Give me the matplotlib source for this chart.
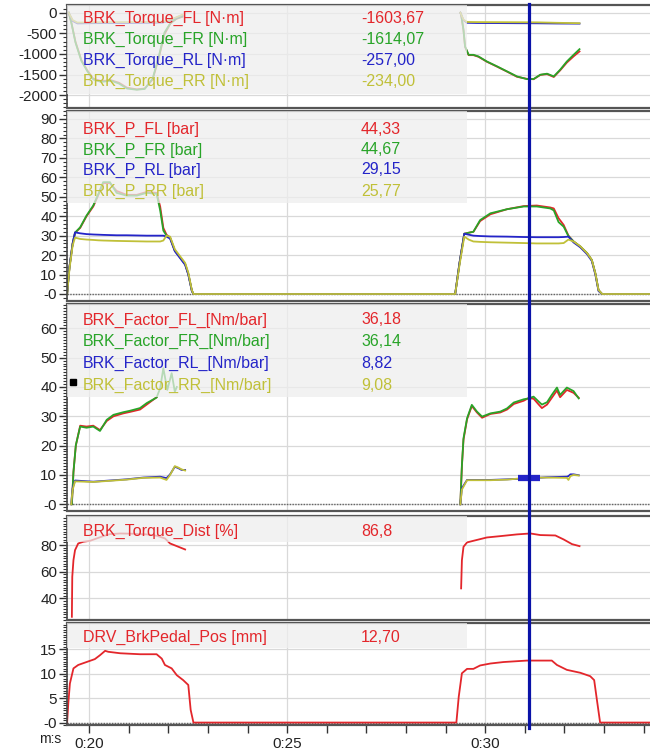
"""
Recria o painel de telemetria de freio (torque, pressão, fator, distribuição, pedal).
"""

import numpy as np
import matplotlib
matplotlib.use('Agg')
import matplotlib.pyplot as plt
from matplotlib.patches import Rectangle
from matplotlib.lines import Line2D
from matplotlib.ticker import FixedLocator, MultipleLocator
import matplotlib.transforms as mtransforms

plt.rcParams['font.family'] = ['Liberation Sans', 'DejaVu Sans']

nan = np.nan

# ---------------- Painel 1: torque de freio [N·m] ----------------
t_trq_front = [19.48, 19.55, 19.65, 19.80, 19.95, 20.10, 20.30, 20.55, 20.75, 20.95,
               21.20, 21.40, 21.60, 21.75, 21.90, 22.05, 22.20, 22.35, nan,
               29.37, 29.39, 29.45, 29.49, 29.58, 29.70, 29.83, 30.04, 30.30, 30.55,
               30.80, 31.05, 31.22, 31.39, 31.56, 31.73, 31.89, 32.06, 32.23, 32.38]
trq_fl = [0, -250, -700, -1150, -1400, -1600, -1660, -1640, -1700, -1820,
          -1860, -1840, -1620, -1120, -520, -260, -150, -100, nan,
          0, -40, -430, -830, -1030, -1030, -1070, -1190, -1310, -1430,
          -1555, -1605, -1615, -1510, -1490, -1560, -1400, -1210, -1060, -940]
trq_fr = [0, -260, -720, -1170, -1420, -1620, -1680, -1650, -1720, -1840,
          -1870, -1850, -1600, -1080, -480, -250, -140, -90, nan,
          0, -40, -418, -821, -1022, -1022, -1063, -1184, -1304, -1425,
          -1546, -1612, -1610, -1505, -1480, -1546, -1385, -1184, -1022, -885]
t_trq_rear = [19.48, 19.58, 19.70, 20.0, 20.5, 21.0, 21.5, 21.85, 22.0, 22.2, 22.35, nan,
              29.37, 29.45, 29.54, 29.80, 30.30, 30.80, 31.30, 31.80, 32.38]
trq_rl = [0, -200, -260, -255, -250, -250, -245, -240, -200, -120, -60, nan,
          0, -180, -245, -250, -252, -255, -257, -262, -265]
trq_rr = [0, -180, -240, -235, -230, -228, -225, -220, -190, -110, -50, nan,
          0, -170, -225, -228, -230, -232, -234, -245, -255]

# ---------------- Painel 2: pressão [bar] ----------------
t_p = [19.44, 19.50, 19.58, 19.64, 19.77, 19.93, 20.10, 20.23, 20.35, 20.52,
       20.69, 20.94, 21.20, 21.45, 21.70, 21.79, 21.87, 21.95, 22.04, 22.16,
       22.29, 22.42, 22.50, 22.59, 22.63,
       29.24, 29.35, 29.47, 29.58, 29.70, 29.87, 30.13, 30.55, 30.97, 31.30,
       31.64, 31.73, 31.85, 31.98, 32.10, 32.23, 32.40, 32.57, 32.69, 32.78,
       32.86, 32.95, 34.20]
p_fl = [0, 14, 26, 31.5, 34, 40, 45, 51, 57, 57,
        53, 51, 51, 52.5, 52, 45, 34, 30.5, 29, 22.3,
        18.9, 15.4, 10.3, 1.7, 0,
        0, 16, 31, 31.5, 32, 37.5, 41, 43.6, 45.2, 45.5,
        44.5, 44, 39, 35.5, 30, 27, 24.4, 21, 17.5, 10.6,
        2, 0, 0]
p_fr = [0, 14, 26, 31.5, 34.3, 40.3, 45.5, 51.5, 57.5, 57.5,
        52, 50.6, 50.6, 52, 51.5, 43, 32.6, 30, 29, 22.3,
        18.9, 15.4, 10.3, 1.7, 0,
        0, 16, 31, 31.5, 32, 38, 41.5, 43.6, 45, 45,
        44, 43, 37, 34.6, 29.8, 27, 24.4, 21, 17.5, 10.6,
        2, 0, 0]
p_rl = [0, 14, 26, 31.7, 31.2, 30.8, 30.6, 30.5, 30.4, 30.3,
        30.2, 30.2, 30.1, 30.0, 30.0, 30.0, 30.0, 29.5, 28.5, 22,
        18.5, 15, 10, 1.5, 0,
        0, 16, 31, 30.5, 30, 29.8, 29.6, 29.5, 29.3, 29.2,
        29.2, 29.2, 29.2, 29.3, 29.5, 26.5, 24, 20.5, 17, 10,
        1.5, 0, 0]
p_rr = [0, 13, 25, 29, 28.3, 28, 27.8, 27.6, 27.5, 27.4,
        27.3, 27.2, 27.1, 27.0, 27.0, 27.0, 27.5, 30, 29.5, 23,
        19.5, 16, 11, 2, 0,
        0, 15, 29.5, 28, 27, 26.8, 26.6, 26.4, 26.2, 26.0,
        26.0, 26.0, 26.0, 26.2, 28, 27, 24.5, 21, 17.5, 10.6,
        2, 0, 0]

# ---------------- Painel 3: fator de freio [Nm/bar] ----------------
t_fac_front = [19.56, 19.60, 19.66, 19.77, 19.93, 20.10, 20.27, 20.44, 20.61, 20.86,
               21.03, 21.28, 21.45, 21.70, 21.79, 21.87, 21.97, 22.08, 22.16, 22.21, nan,
               29.37, 29.41, 29.45, 29.54, 29.66, 29.79, 29.92, 30.13, 30.38, 30.55,
               30.72, 30.97, 31.09, 31.22, 31.35, 31.43, 31.56, 31.68, 31.81, 31.89,
               32.06, 32.23, 32.36]
fac_fl = [0, 11, 20, 26.8, 26.5, 26.8, 25.3, 28.4, 30, 31,
          31.5, 32.3, 34, 36.5, nan, nan, nan, nan, nan, nan, nan,
          0, 13, 22, 29, 33.5, 31.3, 29.5, 30.8, 31.3, 32.3,
          34.2, 35.3, 36.2, 36.0, 34, 32.8, 34, 36.3, 38.8, 36.5,
          39, 38, 36.3]
fac_fr = [0, 11, 20.2, 26.5, 26.1, 26.5, 25, 28.8, 30.5, 31.4,
          31.9, 32.8, 34.5, 36.4, 39.6, 46.4, 39, 44.7, 38.4, 40, nan,
          0, 13.4, 22.5, 29.3, 33.9, 31.6, 29.9, 31, 31.6, 32.7,
          34.7, 35.8, 36.1, 36.7, 35, 34, 34.8, 37.3, 39.8, 37.3,
          39.8, 38.6, 36.1]
t_fac_rear = [19.54, 19.58, 19.64, 20.10, 20.52, 20.94, 21.36, 21.79, 21.95, 22.04,
              22.16, 22.25, 22.33, 22.42, nan,
              29.37, 29.41, 29.54, 30.13, 30.55, 31.09, 31.56, 32.06, 32.10, 32.15,
              32.23, 32.36]
fac_rl = [0, 5.5, 8.1, 7.7, 8.1, 8.5, 9.1, 9.4, 8.9, 10.2,
          12.8, 12.3, 11.7, 11.7, nan,
          0, 5.5, 8.3, 8.3, 8.5, 8.82, 9.2, 9.4, 9.6, 10.2,
          10.2, 9.9]
fac_rr = [0, 5, 7.8, 7.6, 8.0, 8.4, 9.0, 9.1, 8.3, 10.0,
          13.0, 12.5, 11.9, 11.5, nan,
          0, 5, 8.2, 8.2, 8.4, 9.08, 9.1, 9.0, 8.3, 9.6,
          10.0, 9.8]

# ---------------- Painel 4: distribuição de torque [%] ----------------
t_dist = [19.56, 19.57, 19.60, 19.64, 19.72, 19.85, 20.02, 20.19, 20.35, 20.52,
          20.78, 21.11, 21.45, 21.70, 21.91, 22.04, 22.21, 22.42, nan,
          29.39, 29.41, 29.45, 29.54, 29.70, 30.04, 30.38, 30.80, 31.14, 31.39,
          31.77, 31.98, 32.19, 32.38]
dist = [26.2, 56.2, 68.7, 76.2, 81.2, 82.5, 83.2, 85, 86.7, 88.2,
        88.7, 88.5, 88.0, 87.0, 85, 81.2, 79.2, 76.7, nan,
        47.5, 68.7, 78.7, 82, 83.2, 85.7, 86.7, 88, 88.7, 87.5,
        87.2, 84.2, 80.7, 79.2]

# ---------------- Painel 5: curso do pedal [mm] ----------------
t_pedal = [19.44, 19.47, 19.51, 19.60, 19.72, 19.93, 20.14, 20.27, 20.40, 20.48,
           20.78, 21.28, 21.70, 21.83, 21.91, 22.08, 22.21, 22.37, 22.50, 22.56,
           22.63, 29.27, 29.33, 29.41, 29.54, 29.70, 29.87, 30.13, 30.46, 31.05,
           31.68, 31.81, 32.06, 32.40, 32.65, 32.75, 32.82, 32.90, 34.20]
pedal = [0, 3.96, 8.0, 11.1, 11.8, 12.4, 13.0, 13.8, 14.7, 14.5,
         14.2, 14.0, 14.0, 13.1, 11.8, 11.1, 9.7, 8.7, 7.7, 2.6,
         0, 0, 5.3, 10.1, 11.0, 11.0, 11.7, 12.1, 12.4, 12.7,
         12.7, 11.8, 10.8, 10.2, 9.5, 8.7, 4.6, 0, 0]

# legenda: (nome, valor no cursor)
leg_trq = [('BRK_Torque_FL [N·m]', '-1603,67'), ('BRK_Torque_FR [N·m]', '-1614,07'),
           ('BRK_Torque_RL [N·m]', '-257,00'), ('BRK_Torque_RR [N·m]', '-234,00')]
leg_p = [('BRK_P_FL [bar]', '44,33'), ('BRK_P_FR [bar]', '44,67'),
         ('BRK_P_RL [bar]', '29,15'), ('BRK_P_RR [bar]', '25,77')]
leg_fac = [('BRK_Factor_FL_[Nm/bar]', '36,18'), ('BRK_Factor_FR_[Nm/bar]', '36,14'),
           ('BRK_Factor_RL_[Nm/bar]', '8,82'), ('BRK_Factor_RR_[Nm/bar]', '9,08')]
leg_dist = [('BRK_Torque_Dist [%]', '86,8')]
leg_pedal = [('DRV_BrkPedal_Pos [mm]', '12,70')]

cursor_t = 31.10
cursor_mark = [30.83, 31.39]   # faixa destacada no fator RL
cursor_mark_val = 8.9

RED, GREEN, BLUE, YELLOW = '#e3262b', '#28a428', '#2424c8', '#c0c038'
CORES = [RED, GREEN, BLUE, YELLOW]
CURSOR = '#0a12a8'

W, H = 650, 754
X_MIN, X_MAX = 19.437, 34.16
X_ESQ = 67


def painel(fig, topo, base, ylim, yticks, ylabels, n_minor, box_base, linhas_leg, zero=False):
    """Cria um painel; posições em pixels da figura."""
    ax = fig.add_axes([X_ESQ / W, 1 - base / H, (W - X_ESQ) / W, (base - topo) / H])
    ax.set_xlim(X_MIN, X_MAX)
    ax.set_ylim(*ylim)
    ax.yaxis.set_major_locator(FixedLocator(yticks))
    ax.set_yticklabels(ylabels)
    passo = (yticks[1] - yticks[0]) / n_minor
    ax.yaxis.set_minor_locator(MultipleLocator(abs(passo)))
    ax.tick_params(axis='y', which='major', length=6, width=1, color='#333',
                   labelsize=11, labelcolor='#222', pad=1)
    ax.tick_params(axis='y', which='minor', length=3, width=0.8, color='#333')
    ax.spines['right'].set_visible(False)
    ax.spines['left'].set_color('#444')
    ax.spines['left'].set_linewidth(1.2)
    for s in ('top', 'bottom'):
        ax.spines[s].set_color('#555')
        ax.spines[s].set_linewidth(1.6)
    for v in yticks:
        ax.axhline(v, color='#d9d9d9', lw=0.9, zorder=0)
    for v in (20, 25, 30):
        ax.axvline(v, color='#d9d9d9', lw=0.9, zorder=0)
    if zero:
        ax.axhline(0, color='#666', lw=1.0, ls=(0, (1, 1)), zorder=1)

    # caixa da legenda (semi-transparente por cima das curvas)
    alt = base - topo
    y0 = (base - box_base) / alt
    ax.add_patch(Rectangle((0, y0), (467 - X_ESQ) / (W - X_ESQ), 1 - y0,
                           transform=ax.transAxes, facecolor='#eeeeee', alpha=0.72,
                           edgecolor='none', zorder=3))
    for (nome, valor, y_px), cor in zip(linhas_leg, CORES):
        yf = (base - y_px) / alt
        ax.text((83 - X_ESQ) / (W - X_ESQ), yf, nome, color=cor, fontsize=11.5,
                va='center', ha='left', transform=ax.transAxes, zorder=4)
        ax.text((361 - X_ESQ) / (W - X_ESQ), yf, valor, color=cor, fontsize=11.5,
                va='center', ha='left', transform=ax.transAxes, zorder=4)
    return ax


def main():
    fig = plt.figure(figsize=(W / 100, H / 100), dpi=100)
    fig.patch.set_facecolor('white')
    lw = 1.3

    # 1. Torque
    ax1 = painel(fig, 5, 108, (-2313, 187), [-2000, -1500, -1000, -500, 0],
                 ['-2000', '-1500', '-1000', '-500', '0'], 5, 94,
                 [(n, v, y) for (n, v), y in zip(leg_trq, [18.5, 39.5, 60.5, 81.5])])
    ax1.plot(t_trq_front, trq_fl, color=RED, lw=lw, zorder=2)
    ax1.plot(t_trq_front, trq_fr, color=GREEN, lw=lw, zorder=2)
    ax1.plot(t_trq_rear, trq_rl, color=BLUE, lw=lw, zorder=2)
    ax1.plot(t_trq_rear, trq_rr, color=YELLOW, lw=lw, zorder=2)

    # 2. Pressão
    ax2 = painel(fig, 111, 301, (-3.6, 94.1), list(range(0, 91, 10)),
                 ['-0'] + [str(v) for v in range(10, 91, 10)], 5, 203,
                 [(n, v, y) for (n, v), y in zip(leg_p, [129, 150, 170, 191])], zero=True)
    for serie, cor in zip([p_fl, p_fr, p_rl, p_rr], CORES):
        ax2.plot(t_p, serie, color=cor, lw=lw, zorder=2)

    # 3. Fator
    ax3 = painel(fig, 304, 511, (-2.3, 68.3), list(range(0, 61, 10)),
                 ['-0'] + [str(v) for v in range(10, 61, 10)], 10, 397,
                 [(n, v, y) for (n, v), y in zip(leg_fac, [320, 341.5, 363, 385])], zero=True)
    ax3.plot(t_fac_front, fac_fl, color=RED, lw=lw, zorder=2)
    ax3.plot(t_fac_front, fac_fr, color=GREEN, lw=lw, zorder=2)
    ax3.plot(t_fac_rear, fac_rl, color=BLUE, lw=lw, zorder=2)
    ax3.plot(t_fac_rear, fac_rr, color=YELLOW, lw=lw, zorder=2)
    ax3.plot(cursor_mark, [cursor_mark_val] * 2, color=BLUE, lw=4.5,
             solid_capstyle='butt', zorder=2.5)
    ax3.plot([(73 - X_ESQ) / (W - X_ESQ)], [(511 - 382) / 207], marker='s', ms=4,
             color='black', transform=ax3.transAxes, clip_on=False, zorder=5)

    # 4. Distribuição
    ax4 = painel(fig, 516, 620, (23.8, 101.8), [40, 60, 80], ['40', '60', '80'], 10, 542,
                 [(n, v, 531) for (n, v) in leg_dist])
    ax4.plot(t_dist, dist, color=RED, lw=lw, zorder=2)

    # 5. Pedal
    ax5 = painel(fig, 623, 725, (-0.5, 20.4), [0, 5, 10, 15], ['-0', '5', '10', '15'], 10, 648,
                 [(n, v, 637.5) for (n, v) in leg_pedal], zero=True)
    ax5.plot(t_pedal, pedal, color=RED, lw=lw, zorder=2)

    for ax in (ax1, ax2, ax3, ax4):
        ax.tick_params(axis='x', which='both', bottom=False, labelbottom=False)
    ax5.xaxis.set_major_locator(FixedLocator([20, 25, 30]))
    ax5.xaxis.set_minor_locator(MultipleLocator(1))
    ax5.set_xticklabels(['0:20', '0:25', '0:30'])
    ax5.tick_params(axis='x', which='both', length=6, width=1, color='#333',
                    labelsize=11, labelcolor='#222', pad=3)
    fig.text(50 / W, 1 - 739 / H, 'm:s', fontsize=10, color='#222', ha='center', va='center')

    # cursor vertical atravessando todos os painéis
    trans = mtransforms.blended_transform_factory(ax5.transData, fig.transFigure)
    fig.add_artist(Line2D([cursor_t, cursor_t], [1 - 4 / H, 1 - 728 / H], transform=trans,
                          color=CURSOR, lw=2.3, zorder=10))

    fig.savefig('out.png', dpi=100, facecolor='white')
    plt.close(fig)


if __name__ == '__main__':
    main()
